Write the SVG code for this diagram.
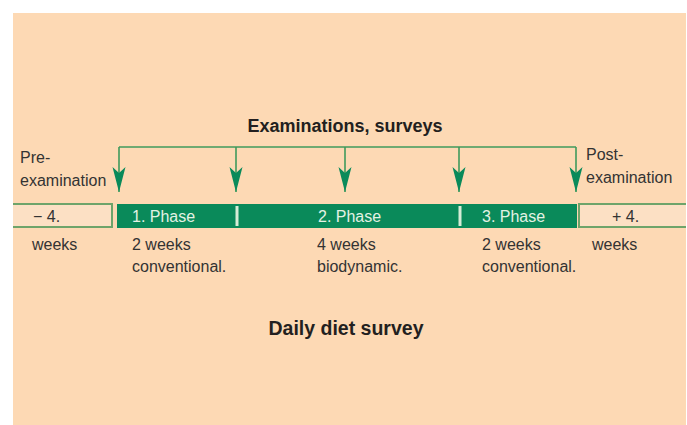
<svg xmlns="http://www.w3.org/2000/svg" width="687" height="425" viewBox="0 0 687 425">
<defs>
<style>
.t{font-family:"Liberation Sans",Arial,sans-serif;font-size:16px;fill:#333333}
.b{font-family:"Liberation Sans",Arial,sans-serif;font-weight:bold;fill:#231f20}
.ph{font-family:"Liberation Sans",Arial,sans-serif;font-size:16px;fill:#e4f2e4}
.box{fill:#fce0c4;stroke:none}
.edge{fill:none;stroke:#6ea46a;stroke-width:2}
.conn{fill:none;stroke:#3f9a5c;stroke-width:1.6}
.sep{stroke:#d6ecd6;stroke-width:3}
</style>
<marker id="ah" viewBox="0 -7 26 14" markerWidth="26" markerHeight="14" refX="25" refY="0" orient="auto" markerUnits="userSpaceOnUse">
<path d="M0,-6.5 L6,0 L0,6.5 L25,0 Z" fill="#0a8a5a"/>
</marker>
</defs>
<rect x="13" y="13" width="673" height="412" fill="#fdd9b4"/>
<g id="connectors">
<path class="conn" d="M119,147 H576"/>
<path class="conn" d="M119,147 V192" marker-end="url(#ah)"/>
<path class="conn" d="M236,147 V192" marker-end="url(#ah)"/>
<path class="conn" d="M345,147 V192" marker-end="url(#ah)"/>
<path class="conn" d="M459,147 V192" marker-end="url(#ah)"/>
<path class="conn" d="M576,147 V192" marker-end="url(#ah)"/>
</g>
<g id="title-top"><text class="b" x="345" y="132" font-size="18" text-anchor="middle">Examinations, surveys</text></g>
<g id="pre-label"><text class="t" x="20" y="163">Pre-</text><text class="t" x="20" y="186">examination</text></g>
<g id="post-label"><text class="t" x="586" y="160">Post-</text><text class="t" x="586" y="183">examination</text></g>
<g id="pre-box">
<rect class="box" x="13" y="204" width="99" height="23"/>
<path class="edge" d="M13,204 H112 V227 H13"/>
<text class="t" x="33" y="222" fill="#4a4a4a">− 4.</text>
</g>
<g id="phases">
<rect x="117" y="204" width="460" height="24" fill="#0a8a5a"/>
<line class="sep" x1="237" y1="206" x2="237" y2="226"/>
<line class="sep" x1="460" y1="206" x2="460" y2="226"/>
<text class="ph" x="132" y="222">1. Phase</text>
<text class="ph" x="318" y="222">2. Phase</text>
<text class="ph" x="482" y="222">3. Phase</text>
</g>
<g id="post-box">
<rect class="box" x="579" y="204" width="107" height="23"/>
<path class="edge" d="M686,204 H579 V227 H686"/>
<text class="t" x="612" y="222">+ 4.</text>
</g>
<g id="durations">
<text class="t" x="32" y="250">weeks</text>
<text class="t" x="132" y="250">2 weeks</text>
<text class="t" x="132" y="272">conventional.</text>
<text class="t" x="317" y="250">4 weeks</text>
<text class="t" x="317" y="272">biodynamic.</text>
<text class="t" x="482" y="250">2 weeks</text>
<text class="t" x="482" y="272">conventional.</text>
<text class="t" x="592" y="250">weeks</text>
</g>
<g id="title-bottom"><text class="b" x="346" y="335" font-size="19.5" text-anchor="middle">Daily diet survey</text></g>
</svg>
